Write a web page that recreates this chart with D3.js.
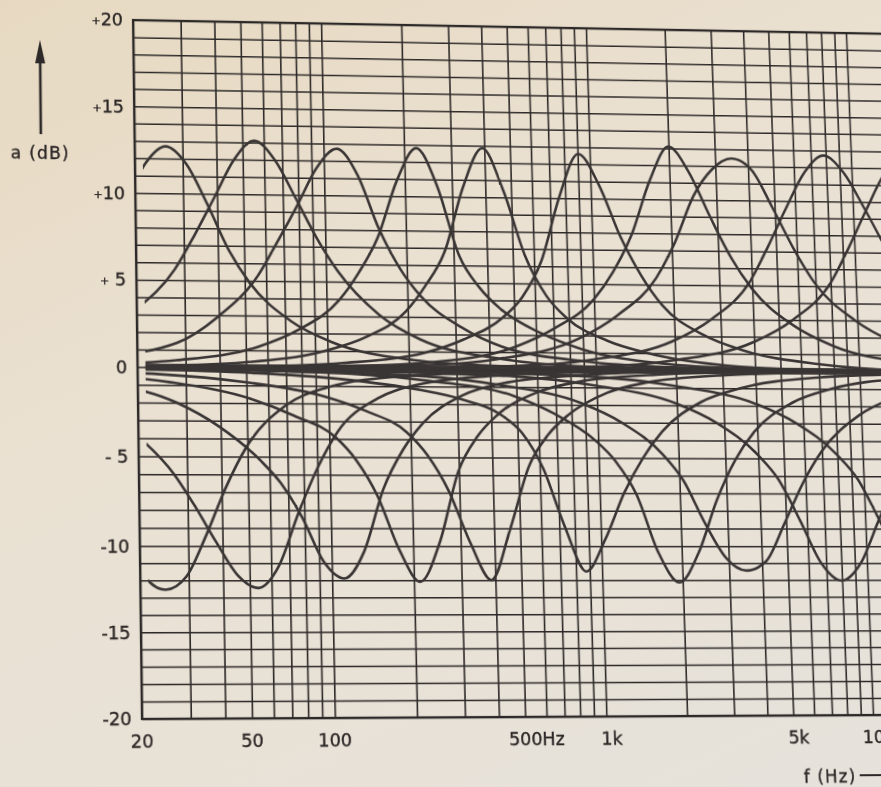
<!DOCTYPE html>
<html>
<head>
<meta charset="utf-8">
<script src="https://cdn.jsdelivr.net/npm/d3@7"></script>
<style>
  html, body { margin: 0; padding: 0; }
  body {
    width: 881px; height: 787px; overflow: hidden; position: relative;
    background: linear-gradient(155deg, #e7d9c1 0%, #eae1d2 40%, #e6e2db 100%);
  }
  #chart { position: absolute; left: 0; top: 0; width: 1000px; height: 800px; }
  svg { display: block; }
  text { font-family: "DejaVu Sans", sans-serif; fill: #2c2726; stroke: #2c2726; stroke-width: 0.35; }
</style>
</head>
<body>
<div id="chart"></div>
<script>
// band centres (Hz)
const boostHz = [26, 55.3, 112, 222, 393, 904, 1997, 3465, 7834, 16000];
const cutHz   = [24.7, 53.7, 111, 211, 387, 873, 1945, 3487, 7970, 16000];
// sample positions around each centre (octaves)
const offsetOct = [-9, -6, -4, -3, -2, -1.5, -1, -0.75, -0.5, -0.25, 0, 0.25, 0.5, 0.75, 1, 1.5, 2, 3, 4, 6, 9];
// level in dB at those positions, one row per band
const boostDb = [
  [0, 0.05, 0.2, 0.5, 1.5, 2.8, 4.9, 6.9, 9.4, 11.7, 12.7, 11.7, 9.4, 6.8, 4.9, 2.7, 1.5, 0.5, 0.2, 0.05, 0],
  [0, 0.05, 0.2, 0.6, 1.7, 3.2, 5.6, 7.6, 9.8, 12.0, 13.1, 12.0, 9.8, 7.5, 5.6, 3.1, 1.7, 0.6, 0.2, 0.05, 0],
  [0, 0.05, 0.15, 0.5, 1.4, 2.9, 5.3, 7.3, 9.4, 11.6, 12.7, 11.2, 8.1, 5.8, 4.2, 2.4, 1.3, 0.5, 0.2, 0.05, 0],
  [0, 0.04, 0.15, 0.4, 1.2, 2.2, 3.9, 5.5, 7.6, 10.9, 12.8, 10.6, 6.6, 4.7, 3.5, 2.1, 1.2, 0.4, 0.15, 0.04, 0],
  [0, 0.03, 0.1, 0.3, 1.0, 1.8, 3.3, 4.8, 6.8, 10.6, 12.85, 10.4, 6.6, 4.3, 3.0, 1.7, 1.0, 0.3, 0.1, 0.03, 0],
  [0, 0.03, 0.1, 0.3, 0.9, 1.7, 3.0, 4.2, 6.3, 10.1, 12.6, 10.8, 7.8, 5.5, 3.8, 2.1, 1.2, 0.4, 0.1, 0.03, 0],
  [0, 0.04, 0.15, 0.4, 1.3, 2.4, 4.1, 5.7, 7.9, 11.1, 13.1, 11.6, 9.0, 6.6, 4.8, 2.7, 1.5, 0.5, 0.15, 0.04, 0],
  [0, 0.05, 0.2, 0.6, 1.8, 3.2, 5.4, 7.5, 10.2, 11.8, 12.45, 11.8, 9.6, 7.2, 5.2, 3.0, 1.7, 0.6, 0.2, 0.05, 0],
  [0, 0.05, 0.2, 0.6, 1.7, 3.0, 5.2, 7.3, 9.6, 11.7, 12.7, 11.7, 9.6, 7.3, 5.2, 3.0, 1.7, 0.6, 0.2, 0.05, 0],
  [0, 0.05, 0.2, 0.6, 1.7, 3.0, 5.2, 7.3, 9.6, 11.7, 12.5, 11.7, 9.6, 7.3, 5.2, 3.0, 1.7, 0.6, 0.2, 0.05, 0]
];
const cutDb = [
  [0, -0.06, -0.2, -0.5, -1.1, -2.1, -4.4, -6.5, -9.4, -11.8, -12.55, -11.8, -9.4, -6.7, -4.5, -2.1, -1.1, -0.4, -0.2, -0.06, 0],
  [0, -0.1, -0.3, -0.8, -1.8, -3.6, -6.0, -7.8, -9.8, -11.7, -12.45, -11.2, -8.2, -5.6, -3.6, -1.7, -0.9, -0.35, -0.15, -0.05, 0],
  [0, -0.1, -0.3, -0.8, -2.0, -3.3, -5.2, -6.5, -8.4, -10.9, -11.9, -10.3, -6.8, -4.6, -3.1, -1.5, -0.8, -0.3, -0.1, -0.04, 0],
  [0, -0.2, -0.45, -0.85, -1.8, -2.7, -3.9, -5.2, -7.2, -10.2, -12.1, -9.8, -5.8, -3.8, -2.6, -1.3, -0.7, -0.25, -0.1, -0.04, 0],
  [0, -0.15, -0.4, -0.8, -1.6, -2.4, -3.6, -4.9, -6.9, -9.8, -12.0, -9.0, -5.5, -3.7, -2.6, -1.3, -0.7, -0.25, -0.1, -0.04, 0],
  [0, -0.1, -0.3, -0.6, -1.2, -1.7, -2.6, -3.6, -5.6, -8.9, -11.5, -9.6, -7.0, -5.0, -3.5, -1.8, -1.0, -0.35, -0.15, -0.05, 0],
  [0, -0.1, -0.3, -0.7, -1.5, -2.5, -4.0, -5.2, -7.1, -10.4, -12.15, -10.4, -7.4, -5.1, -3.5, -1.8, -1.0, -0.35, -0.15, -0.05, 0],
  [0, -0.15, -0.4, -0.9, -1.9, -3.0, -4.8, -6.3, -8.7, -10.7, -11.45, -10.9, -8.7, -6.4, -4.6, -2.5, -1.4, -0.5, -0.2, -0.06, 0],
  [0, -0.15, -0.4, -0.9, -1.9, -3.0, -4.8, -6.2, -8.5, -11.0, -12.05, -11.0, -8.5, -6.2, -4.6, -2.5, -1.4, -0.5, -0.2, -0.06, 0],
  [0, -0.15, -0.4, -0.9, -1.9, -3.0, -4.8, -6.2, -8.5, -11.0, -12.0, -11.0, -8.5, -6.2, -4.6, -2.5, -1.4, -0.5, -0.2, -0.06, 0]
];
const curveStartHz = 21.4;

// axis labels
const yTickValues = [20, 15, 10, 5, 0, -5, -10, -15, -20];
const yTickSign   = ["+", "+", "+", "+ ", "", "- ", "-", "-", "-"];
const yTickNum    = ["20", "15", "10", "5", "0", "5", "10", "15", "20"];
const xTickValues = [20, 50, 100, 500, 1000, 5000, 10000];
const xTickNum    = ["20", "50", "100", "500", "1", "5", "10"];
const xTickUnit   = ["", "", "", "Hz", "k", "k", "k"];

/* sizes */
const W = 1000, H = 800;
const x = d3.scaleLog().domain([20, 10000]).range([142, 873]);
// slightly uneven spacing of the printed dB rules
const y = d3.scaleLinear().domain([-20, -10, 0, 10, 20]).range([719, 549.25, 371.5, 196.25, 20]);
const xMin = x(20), xMax = x(20000), yTop = y(20), yBot = y(-20);
const ink = "#2d2928";

const svg = d3.select("#chart").append("svg")
  .attr("width", W).attr("height", H);

/* grid through axes */
svg.append("g")
  .attr("transform", "translate(0," + yBot + ")")
  .call(d3.axisBottom(x).tickValues(x.copy().domain([20, 20000]).ticks())
          .tickSize(-(yBot - yTop)).tickFormat(""))
  .call(g => g.select(".domain").remove())
  .call(g => g.selectAll("line").attr("stroke", ink).attr("stroke-width", 1.6));

svg.append("g")
  .attr("transform", "translate(" + xMin + ",0)")
  .call(d3.axisLeft(y).tickValues(d3.range(-20, 21, 1))
          .tickSize(-(xMax - xMin)).tickFormat(""))
  .call(g => g.select(".domain").remove())
  .call(g => g.selectAll("line").attr("stroke", ink).attr("stroke-width", 1.5));

svg.append("rect")
  .attr("x", xMin).attr("y", yTop)
  .attr("width", xMax - xMin).attr("height", yBot - yTop)
  .attr("fill", "none").attr("stroke", ink).attr("stroke-width", 2.2);

/* curves */
svg.append("clipPath").attr("id", "plotclip")
  .append("rect")
  .attr("x", x(curveStartHz)).attr("y", yTop)
  .attr("width", xMax - x(curveStartHz)).attr("height", yBot - yTop);

const line = d3.line()
  .x(d => x(d.f)).y(d => y(d.db))
  .curve(d3.curveMonotoneX);

const curves = [];
boostHz.forEach((hz, i) => curves.push(offsetOct.map((o, k) => ({f: hz * Math.pow(2, o), db: boostDb[i][k]}))));
cutHz.forEach((hz, i) => curves.push(offsetOct.map((o, k) => ({f: hz * Math.pow(2, o), db: cutDb[i][k]}))));

const plot = svg.append("g").attr("clip-path", "url(#plotclip)");

plot.append("line")
  .attr("x1", xMin).attr("x2", xMax)
  .attr("y1", y(0)).attr("y2", y(0))
  .attr("stroke", "#383333").attr("stroke-width", 6.5);

plot.selectAll("path.eq")
  .data(curves)
  .enter().append("path")
  .attr("class", "eq")
  .attr("d", line)
  .attr("fill", "none")
  .attr("stroke", "#3a3535")
  .attr("stroke-width", 2.6)
  .attr("stroke-linejoin", "round");

/* y labels */
yTickValues.forEach((v, i) => {
  const t = svg.append("text")
    .attr("x", xMin - 10).attr("y", y(v) + 6.5)
    .attr("text-anchor", "end").attr("font-size", 17.5);
  if (yTickSign[i].startsWith("+")) {
    t.append("tspan").attr("font-size", 11).attr("dy", -1).text("+");
    t.append("tspan").attr("dy", 1).text((yTickSign[i].length > 1 ? "\u00a0" : "") + yTickNum[i]);
  } else {
    t.text(yTickSign[i].replace(" ", "\u00a0") + yTickNum[i]);
  }
});

/* x labels: number centred on its grid line, unit hanging after */
xTickValues.forEach((v, i) => {
  const t = svg.append("text")
    .attr("y", 747).attr("font-size", 17.5)
    .text(xTickNum[i]);
  const w = t.node().getComputedTextLength();
  t.attr("x", x(v) - w / 2);
  if (xTickUnit[i]) t.append("tspan").text(xTickUnit[i]);
});

/* axis names */
svg.append("text")
  .attr("x", 19).attr("y", 163)
  .attr("font-size", 17).attr("letter-spacing", 1.2)
  .text("a (dB)");
svg.append("line")
  .attr("x1", 49).attr("x2", 49).attr("y1", 138).attr("y2", 62)
  .attr("stroke", ink).attr("stroke-width", 2.6);
svg.append("path")
  .attr("d", "M44,66 L49,42 L54,66 Z")
  .attr("fill", ink);

svg.append("text")
  .attr("x", 800).attr("y", 786)
  .attr("font-size", 17).attr("letter-spacing", 1.2)
  .text("f (Hz)");
svg.append("line")
  .attr("x1", 857).attr("x2", 960).attr("y1", 779).attr("y2", 779)
  .attr("stroke", ink).attr("stroke-width", 2);

/* the page was photographed at a slight angle: map the flat sheet onto it */
function homography(src, dst) {
  const A = [], b = [];
  for (let i = 0; i < 4; i++) {
    const [sx, sy] = src[i], [u, v] = dst[i];
    A.push([sx, sy, 1, 0, 0, 0, -sx * u, -sy * u]); b.push(u);
    A.push([0, 0, 0, sx, sy, 1, -sx * v, -sy * v]); b.push(v);
  }
  const n = 8;
  for (let c = 0; c < n; c++) {
    let p = c;
    for (let r = c + 1; r < n; r++) if (Math.abs(A[r][c]) > Math.abs(A[p][c])) p = r;
    [A[c], A[p]] = [A[p], A[c]]; [b[c], b[p]] = [b[p], b[c]];
    for (let r = c + 1; r < n; r++) {
      const f = A[r][c] / A[c][c];
      for (let k = c; k < n; k++) A[r][k] -= f * A[c][k];
      b[r] -= f * b[c];
    }
  }
  const h = new Array(n);
  for (let r = n - 1; r >= 0; r--) {
    let s = b[r];
    for (let k = r + 1; k < n; k++) s -= A[r][k] * h[k];
    h[r] = s / A[r][r];
  }
  return h;
}
const sheet = [[x(20), y(20)], [x(20), y(-20)], [x(10000), y(-20)], [x(10000), y(20)]];
const photo = [[133, 20], [142, 719], [873, 715], [846, 33]];
const h = homography(sheet, photo);
const m = [h[0], h[3], 0, h[6], h[1], h[4], 0, h[7], 0, 0, 1, 0, h[2], h[5], 0, 1];
d3.select("#chart")
  .style("transform-origin", "0 0")
  .style("transform", "matrix3d(" + m.join(",") + ")");
</script>
</body>
</html>
